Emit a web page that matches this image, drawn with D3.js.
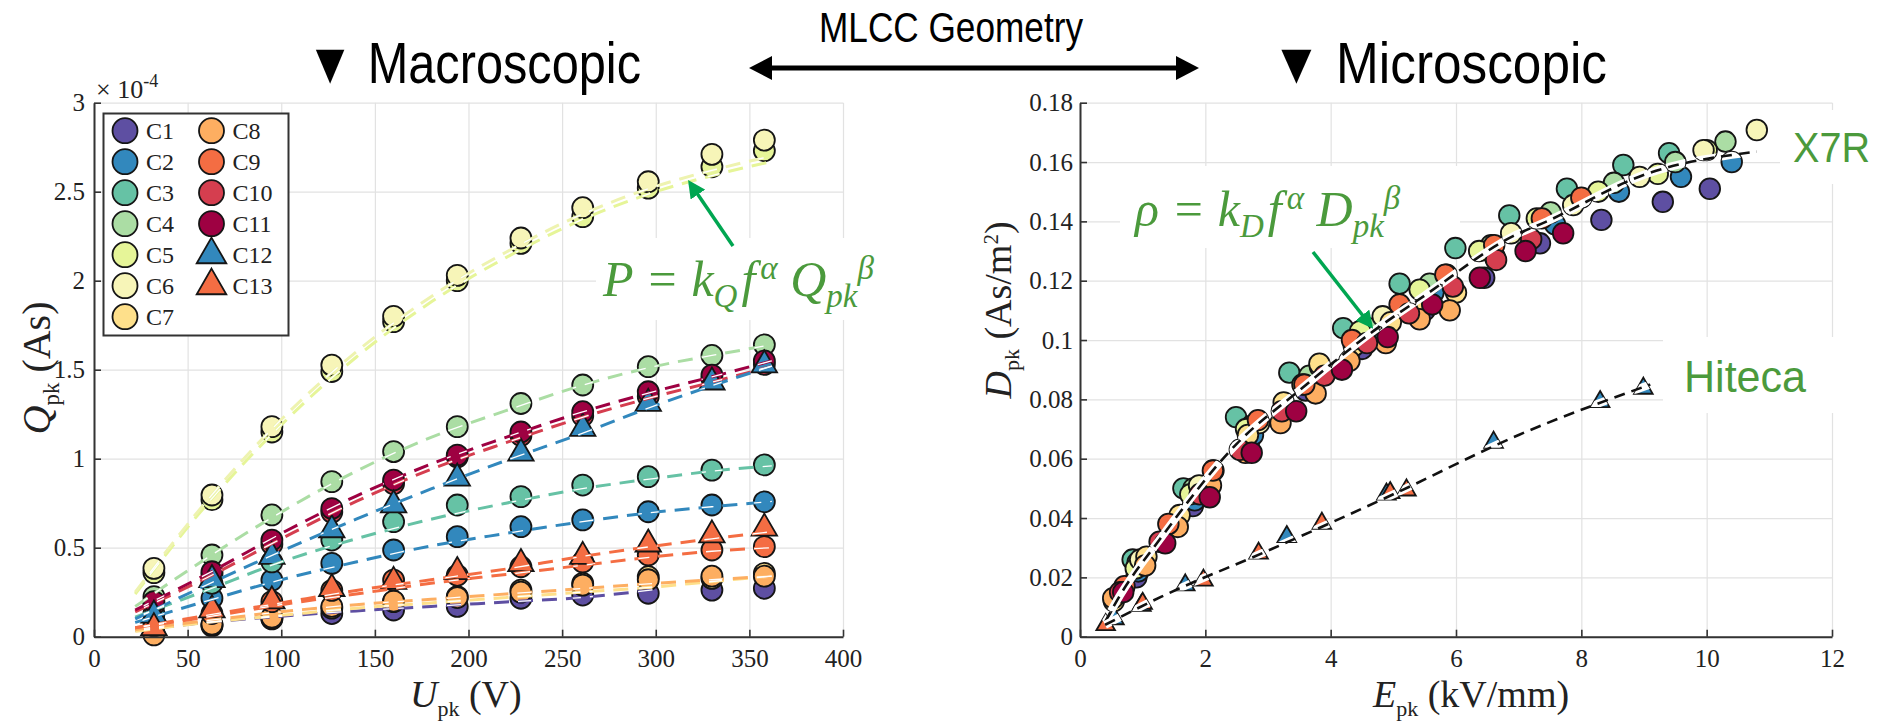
<!DOCTYPE html>
<html>
<head>
<meta charset="utf-8">
<script src="https://cdn.jsdelivr.net/npm/d3@7"></script>
<style>
  body { margin: 0; background: #fff; }
  svg { display: block; }
</style>
</head>
<body>
<svg id="fig" width="1880" height="725"></svg>
<script>
// ---- data ----
const seriesNames = ["C1","C2","C3","C4","C5","C6","C7","C8","C9","C10","C11","C12","C13"];
const seriesColors = ["#5e4fa2","#3288bd","#66c2a5","#abdda4","#e6f598","#f7f5b8","#fee08b","#fdae61","#f46d43","#d53e4f","#9e0142","#3288bd","#f46d43"];
const seriesShapes = ["o","o","o","o","o","o","o","o","o","o","o","t","t"];

// left panel: peak voltage (V) and peak charge (x1e-4 As)
const uLevels = [32, 63, 95, 127, 160, 194, 228, 261, 296, 330, 358];
const qPeak = [
  [0.02, 0.06, 0.10, 0.13, 0.15, 0.17, 0.216, 0.234, 0.244, 0.262, 0.272],
  [0.09, 0.216, 0.318, 0.412, 0.487, 0.562, 0.618, 0.656, 0.702, 0.74, 0.758],
  [0.13, 0.30, 0.42, 0.543, 0.646, 0.74, 0.787, 0.852, 0.899, 0.936, 0.965],
  [0.225, 0.459, 0.684, 0.871, 1.04, 1.18, 1.31, 1.414, 1.517, 1.58, 1.64],
  [0.36, 0.77, 1.15, 1.49, 1.77, 2.00, 2.21, 2.36, 2.52, 2.64, 2.73],
  [0.384, 0.796, 1.18, 1.526, 1.80, 2.03, 2.24, 2.41, 2.556, 2.71, 2.79],
  [0.02, 0.066, 0.103, 0.16, 0.197, 0.225, 0.262, 0.30, 0.337, 0.328, 0.356],
  [0.01, 0.07, 0.11, 0.17, 0.20, 0.22, 0.25, 0.29, 0.32, 0.34, 0.34],
  [0.06, 0.13, 0.197, 0.26, 0.318, 0.345, 0.393, 0.42, 0.459, 0.487, 0.506],
  [0.18, 0.35, 0.52, 0.70, 0.86, 1.01, 1.13, 1.24, 1.35, 1.45, 1.53],
  [0.197, 0.365, 0.543, 0.72, 0.88, 1.02, 1.15, 1.264, 1.376, 1.47, 1.55],
  [0.12, 0.32, 0.45, 0.60, 0.74, 0.89, 1.03, 1.17, 1.31, 1.43, 1.526],
  [0.05, 0.15, 0.20, 0.27, 0.31, 0.365, 0.41, 0.45, 0.52, 0.571, 0.609]
];
// dashed fit curves of the left panel
const fitU = [22, 60, 100, 140, 180, 220, 260, 300, 330, 362];
const qFit = [
  [0.035, 0.08, 0.115, 0.145, 0.17, 0.195, 0.22, 0.265, null, null],
  [0.08, 0.20, 0.32, 0.42, 0.51, 0.58, 0.645, 0.70, 0.73, 0.76],
  [0.11, 0.26, 0.42, 0.55, 0.66, 0.75, 0.83, 0.89, 0.93, 0.96],
  [0.17, 0.44, 0.70, 0.93, 1.12, 1.27, 1.41, 1.52, 1.58, 1.64],
  [0.24, 0.74, 1.19, 1.57, 1.88, 2.13, 2.34, 2.50, 2.59, 2.67],
  [0.25, 0.76, 1.22, 1.60, 1.91, 2.16, 2.37, 2.53, 2.62, 2.70],
  [0.03, 0.08, 0.12, 0.16, 0.19, 0.22, 0.25, 0.28, 0.31, 0.34],
  [0.04, 0.09, 0.14, 0.18, 0.21, 0.24, 0.27, 0.30, 0.32, 0.34],
  [0.05, 0.11, 0.18, 0.24, 0.30, 0.35, 0.40, 0.45, 0.48, 0.50],
  [0.14, 0.33, 0.55, 0.76, 0.94, 1.09, 1.23, 1.35, 1.43, 1.52],
  [0.15, 0.35, 0.58, 0.79, 0.97, 1.12, 1.26, 1.38, 1.46, 1.55],
  [0.10, 0.29, 0.48, 0.66, 0.83, 0.99, 1.14, 1.30, 1.41, 1.52],
  [0.05, 0.12, 0.19, 0.26, 0.32, 0.38, 0.45, 0.51, 0.55, 0.59]
];

// right panel: peak field (kV/mm) and peak flux density (As/m^2)
const ePeak = [
  [0.9, 1.8, 2.7, 3.6, 4.5, 5.5, 6.45, 7.34, 8.32, 9.3, 10.05],
  [0.93, 1.83, 2.76, 3.69, 4.65, 5.64, 6.62, 7.58, 8.6, 9.59, 10.4],
  [0.84, 1.65, 2.49, 3.34, 4.2, 5.1, 5.99, 6.85, 7.77, 8.67, 9.4],
  [0.92, 1.81, 2.73, 3.66, 4.6, 5.58, 6.56, 7.51, 8.52, 9.5, 10.3],
  [0.89, 1.76, 2.65, 3.55, 4.47, 5.42, 6.37, 7.29, 8.27, 9.22, 10.0],
  [0.96, 1.9, 2.86, 3.83, 4.83, 5.85, 6.88, 7.87, 8.93, 9.95, 10.8],
  [0.54, 1.06, 1.59, 2.13, 2.68, 3.25, 3.82, 4.37, 4.96, 5.53, 6.0],
  [0.53, 1.04, 1.56, 2.09, 2.64, 3.2, 3.76, 4.3, 4.88, 5.42, 5.9],
  [0.71, 1.41, 2.12, 2.84, 3.58, 4.34, 5.1, 5.83, 6.61, 7.37, 8.0],
  [0.64, 1.27, 1.91, 2.55, 3.22, 3.9, 4.58, 5.25, 5.95, 6.64, 7.2],
  [0.69, 1.36, 2.07, 2.74, 3.45, 4.18, 4.91, 5.62, 6.38, 7.11, 7.71],
  [0.55, 0.98, 1.68, 3.3, 4.89, 6.6, 8.3, 8.99],
  [0.41, 1.0, 1.97, 2.85, 3.86, 4.95, 5.21]
];
const dPeak = [
  [0.020, 0.044, 0.066, 0.083, 0.097, 0.110, 0.121, 0.1326, 0.1405, 0.1466, 0.151],
  [0.022, 0.046, 0.068, 0.085, 0.101, 0.116, 0.128, 0.139, 0.150, 0.155, 0.160],
  [0.026, 0.050, 0.074, 0.089, 0.104, 0.119, 0.131, 0.142, 0.151, 0.159, 0.163],
  [0.025, 0.050, 0.071, 0.088, 0.104, 0.119, 0.132, 0.143, 0.153, 0.160, 0.1669],
  [0.023, 0.048, 0.070, 0.085, 0.103, 0.117, 0.130, 0.141, 0.150, 0.156, 0.164],
  [0.026, 0.051, 0.072, 0.091, 0.108, 0.122, 0.136, 0.1455, 0.155, 0.164, 0.1708],
  [0.012, 0.027, 0.041, 0.056, 0.068, 0.079, 0.092, 0.098, 0.106, 0.112, 0.116],
  [0.013, 0.024, 0.037, 0.051, 0.062, 0.072, 0.082, 0.093, 0.099, 0.107, 0.110],
  [0.017, 0.038, 0.056, 0.073, 0.085, 0.100, 0.112, 0.122, 0.132, 0.141, 0.148],
  [0.015, 0.032, 0.048, 0.063, 0.076, 0.088, 0.099, 0.109, 0.118, 0.127, 0.134],
  [0.015, 0.0315, 0.047, 0.062, 0.076, 0.090, 0.101, 0.112, 0.121, 0.130, 0.136],
  [0.006, 0.0105, 0.0174, 0.0337, 0.048, 0.0655, 0.0792, 0.0837],
  [0.004, 0.0112, 0.019, 0.0281, 0.0382, 0.0485, 0.0494]
];
const x7rFitE = [0.4, 0.64, 1.28, 2.5, 3.5, 4.68, 5.5, 6.91, 7.45, 9.04, 10.8];
const x7rFitD = [0.005, 0.014, 0.033, 0.065, 0.083, 0.103, 0.115, 0.135, 0.140, 0.156, 0.1635];
const hitecaFitE = [0.4, 1.3, 3, 5, 7, 9.1];
const hitecaFitD = [0.004, 0.0135, 0.029, 0.048, 0.068, 0.085];

const uTicks = [0, 50, 100, 150, 200, 250, 300, 350, 400];
const qTicks = [0, 0.5, 1, 1.5, 2, 2.5, 3];
const eTicks = [0, 2, 4, 6, 8, 10, 12];
const dTicks = [0, 0.02, 0.04, 0.06, 0.08, 0.1, 0.12, 0.14, 0.16, 0.18];

// ---- drawing ----
const svg = d3.select("#fig");
const serif = "'Liberation Serif','Times New Roman',serif";
const sans = "'Liberation Sans',Arial,sans-serif";
const green = "#4b9a3c";
const fmt = d3.format("~g");

const xL = d3.scaleLinear().domain([0, 400]).range([94, 843]);
const yL = d3.scaleLinear().domain([0, 3]).range([636.7, 102.7]);
const xR = d3.scaleLinear().domain([0, 12]).range([1080, 1832]);
const yR = d3.scaleLinear().domain([0, 0.18]).range([636.7, 102.7]);

function frame(x, y, xt, yt) {
  const y0 = y.range()[0], y1 = y.range()[1];
  const x0 = x.range()[0], x1 = x.range()[1];
  const g = svg.append("g");
  g.append("g").attr("transform", `translate(0,${y0})`)
    .call(d3.axisBottom(x).tickValues(xt).tickSize(-(y0 - y1)).tickFormat(""))
    .call(s => s.select(".domain").remove())
    .selectAll("line").attr("stroke", "#e2e2e2").attr("stroke-width", 1.2);
  g.append("g").attr("transform", `translate(${x0},0)`)
    .call(d3.axisLeft(y).tickValues(yt).tickSize(-(x1 - x0)).tickFormat(""))
    .call(s => s.select(".domain").remove())
    .selectAll("line").attr("stroke", "#e2e2e2").attr("stroke-width", 1.2);
  return g;
}

function axes(x, y, xt, yt, padY) {
  const y0 = y.range()[0], x0 = x.range()[0];
  const g = svg.append("g");
  const ax = g.append("g").attr("transform", `translate(0,${y0})`)
    .call(d3.axisBottom(x).tickValues(xt).tickSize(-7).tickSizeOuter(0).tickPadding(13).tickFormat(fmt));
  const ay = g.append("g").attr("transform", `translate(${x0},0)`)
    .call(d3.axisLeft(y).tickValues(yt).tickSize(-7).tickSizeOuter(0).tickPadding(padY).tickFormat(fmt));
  [ax, ay].forEach(a => {
    a.select(".domain").attr("stroke", "#333").attr("stroke-width", 2);
    a.selectAll(".tick line").attr("stroke", "#333").attr("stroke-width", 1.6);
    a.selectAll("text").attr("font-family", serif).attr("font-size", 25).attr("fill", "#222");
  });
}

function markerPath(shape, size) {
  return shape === "t" ? d3.symbol().type(d3.symbolTriangle).size(size)() : null;
}

function drawMarker(sel, shape, color, px, py, r, triSize) {
  if (shape === "o") {
    return sel.append("circle").attr("cx", px).attr("cy", py).attr("r", r)
      .attr("fill", color).attr("stroke", "#151515").attr("stroke-width", 1.8);
  }
  return sel.append("path").attr("d", markerPath("t", triSize))
    .attr("transform", `translate(${px},${py})`)
    .attr("fill", color).attr("stroke", "#151515").attr("stroke-width", 1.8);
}

// formula text: main letters, subscript, superscripts
function formula(x, y, lead, sub1, sym2, sub2) {
  const t = svg.append("text").attr("x", x).attr("y", y).attr("font-family", serif)
    .attr("font-style", "italic").attr("font-size", 50).attr("fill", green);
  t.append("tspan").text(lead + " = k");
  t.append("tspan").attr("font-size", 33).attr("dy", 11).text(sub1);
  t.append("tspan").attr("dy", -11).attr("dx", 4).text("f");
  t.append("tspan").attr("font-size", 33).attr("dy", -17).attr("dx", 5).text("\u03b1");
  t.append("tspan").attr("dy", 17).text(" " + sym2);
  t.append("tspan").attr("font-size", 33).attr("dy", 11).text(sub2);
  t.append("tspan").attr("font-size", 33).attr("dy", -28).text("\u03b2");
  return t;
}

const defs = svg.append("defs");

// ================= LEFT PANEL =================
frame(xL, yL, uTicks, qTicks);

const clipL = defs.append("clipPath").attr("id", "clipL");
const mkL = svg.append("g");
seriesNames.forEach((name, i) => {
  qPeak[i].forEach((q, j) => {
    if (q == null) return;
    const px = xL(uLevels[j]), py = yL(q);
    drawMarker(mkL, seriesShapes[i], seriesColors[i], px, py, 10.5, 280);
    if (seriesShapes[i] === "o") clipL.append("circle").attr("cx", px).attr("cy", py).attr("r", 10.5);
    else clipL.append("path").attr("d", markerPath("t", 280)).attr("transform", `translate(${px},${py})`);
  });
});

const lineL = d3.line().defined(d => d[1] != null)
  .x(d => xL(d[0])).y(d => yL(d[1])).curve(d3.curveMonotoneX);
const fitG = svg.append("g");
seriesNames.forEach((name, i) => {
  const pts = fitU.map((u, j) => [u, qFit[i][j]]).filter(d => d[1] != null);
  fitG.append("path").attr("d", lineL(pts)).attr("fill", "none")
    .attr("stroke", seriesColors[i] === "#f7f5b8" ? "#eef3b0" : seriesColors[i])
    .attr("stroke-width", 3).attr("stroke-dasharray", "15,9");
});
const hiG = svg.append("g").attr("clip-path", "url(#clipL)");
seriesNames.forEach((name, i) => {
  const pts = fitU.map((u, j) => [u, qFit[i][j]]).filter(d => d[1] != null);
  hiG.append("path").attr("d", lineL(pts)).attr("fill", "none")
    .attr("stroke", "#fff").attr("stroke-width", 1.3).attr("stroke-dasharray", "15,9");
});

axes(xL, yL, uTicks, qTicks, 9);

// exponent label
svg.append("text").attr("x", 96).attr("y", 98).attr("font-family", serif)
  .attr("font-size", 26).attr("fill", "#222")
  .text("\u00d7 10").append("tspan").attr("dy", -11).attr("font-size", 18).text("-4");

// legend
const leg = svg.append("g");
leg.append("rect").attr("x", 103.5).attr("y", 113.5).attr("width", 185).attr("height", 222)
  .attr("fill", "#fff").attr("stroke", "#333").attr("stroke-width", 2);
seriesNames.forEach((name, i) => {
  const col = i < 7 ? 0 : 1, row = i < 7 ? i : i - 7;
  const cx = col === 0 ? 125 : 211.5, cy = 130.7 + row * 31;
  drawMarker(leg, seriesShapes[i], seriesColors[i], cx, cy, 12.5, 380);
  leg.append("text").attr("x", cx + 21).attr("y", cy + 8).attr("font-family", serif)
    .attr("font-size", 24).attr("fill", "#222").text(name);
});

// axis labels
const ylab = svg.append("text").attr("transform", "translate(50,368) rotate(-90)")
  .attr("text-anchor", "middle").attr("font-family", serif).attr("font-size", 40).attr("fill", "#222");
ylab.append("tspan").attr("font-style", "italic").text("Q");
ylab.append("tspan").attr("font-size", 23).attr("dy", 9).text("pk");
ylab.append("tspan").attr("dy", -9).text(" (As)");

const xlab = svg.append("text").attr("x", 410).attr("y", 707)
  .attr("font-family", serif).attr("font-size", 38).attr("fill", "#222");
xlab.append("tspan").attr("font-style", "italic").text("U");
xlab.append("tspan").attr("font-size", 22).attr("dy", 9).text("pk");
xlab.append("tspan").attr("dy", -9).text(" (V)");

// annotation
svg.append("rect").attr("x", 596).attr("y", 238).attr("width", 312).attr("height", 82).attr("fill", "#fff");
formula(603, 296, "P", "Q", "Q", "pk");

// ================= RIGHT PANEL =================
frame(xR, yR, eTicks, dTicks);

// white boxes behind labels
svg.append("rect").attr("x", 1120).attr("y", 166).attr("width", 340).attr("height", 82).attr("fill", "#fff");
svg.append("rect").attr("x", 1780).attr("y", 110).attr("width", 100).attr("height", 74).attr("fill", "#fff");
svg.append("rect").attr("x", 1663).attr("y", 337).attr("width", 217).attr("height", 76).attr("fill", "#fff");

const clipR = defs.append("clipPath").attr("id", "clipR");
const mkR = svg.append("g");
seriesNames.forEach((name, i) => {
  ePeak[i].forEach((e, j) => {
    const px = xR(e), py = yR(dPeak[i][j]);
    drawMarker(mkR, seriesShapes[i], seriesColors[i], px, py, 10.3, 150);
    if (seriesShapes[i] === "o") clipR.append("circle").attr("cx", px).attr("cy", py).attr("r", 10.3);
    else clipR.append("path").attr("d", markerPath("t", 150)).attr("transform", `translate(${px},${py})`);
  });
});

const lineR = d3.line().x(d => xR(d[0])).y(d => yR(d[1])).curve(d3.curveMonotoneX);
const x7rPts = x7rFitE.map((e, j) => [e, x7rFitD[j]]);
const hitPts = hitecaFitE.map((e, j) => [e, hitecaFitD[j]]);
[x7rPts, hitPts].forEach(pts => {
  svg.append("path").attr("d", lineR(pts)).attr("fill", "none").attr("clip-path", "url(#clipR)")
    .attr("stroke", "#fff").attr("stroke-width", 8);
  svg.append("path").attr("d", lineR(pts)).attr("fill", "none")
    .attr("stroke", "#111").attr("stroke-width", 2.6).attr("stroke-dasharray", "11,7");
});

axes(xR, yR, eTicks, dTicks, 7);

const ylabR = svg.append("text").attr("transform", "translate(1011,310) rotate(-90)")
  .attr("text-anchor", "middle").attr("font-family", serif).attr("font-size", 38).attr("fill", "#222");
ylabR.append("tspan").attr("font-style", "italic").text("D");
ylabR.append("tspan").attr("font-size", 22).attr("dy", 8).text("pk");
ylabR.append("tspan").attr("dy", -8).text("  (As/m");
ylabR.append("tspan").attr("font-size", 21).attr("dy", -13).text("2");
ylabR.append("tspan").attr("dy", 13).text(")");

const xlabR = svg.append("text").attr("x", 1373).attr("y", 707)
  .attr("font-family", serif).attr("font-size", 38).attr("fill", "#222");
xlabR.append("tspan").attr("font-style", "italic").text("E");
xlabR.append("tspan").attr("font-size", 22).attr("dy", 9).text("pk");
xlabR.append("tspan").attr("dy", -9).text("  (kV/mm)");

formula(1135, 226, "\u03c1", "D", "D", "pk");

svg.append("text").attr("x", 1793).attr("y", 162).attr("font-family", sans)
  .attr("font-size", 42).attr("textLength", 77).attr("lengthAdjust", "spacingAndGlyphs")
  .attr("fill", green).text("X7R");
svg.append("text").attr("x", 1684).attr("y", 392).attr("font-family", sans)
  .attr("font-size", 44).attr("textLength", 122).attr("lengthAdjust", "spacingAndGlyphs")
  .attr("fill", green).text("Hiteca");

// green pointer arrows
defs.append("marker").attr("id", "ga").attr("viewBox", "0 0 10 10").attr("refX", 8).attr("refY", 5)
  .attr("markerWidth", 5).attr("markerHeight", 5).attr("orient", "auto")
  .append("path").attr("d", "M0,0L10,5L0,10z").attr("fill", "#00a651");
svg.append("line").attr("x1", 733).attr("y1", 246).attr("x2", 690).attr("y2", 183)
  .attr("stroke", "#00a651").attr("stroke-width", 3.5).attr("marker-end", "url(#ga)");
svg.append("line").attr("x1", 1313).attr("y1", 252).attr("x2", 1371).attr("y2", 326)
  .attr("stroke", "#00a651").attr("stroke-width", 3.5).attr("marker-end", "url(#ga)");

// ================= TITLES =================
svg.append("text").attr("x", 306).attr("y", 83).attr("font-family", sans).attr("font-size", 58)
  .attr("textLength", 335).attr("lengthAdjust", "spacingAndGlyphs").attr("fill", "#000")
  .text("\u25bc Macroscopic");
svg.append("text").attr("x", 1271).attr("y", 83).attr("font-family", sans).attr("font-size", 58)
  .attr("textLength", 336).attr("lengthAdjust", "spacingAndGlyphs").attr("fill", "#000")
  .text("\u25bc Microscopic");
svg.append("text").attr("x", 819).attr("y", 42).attr("font-family", sans).attr("font-size", 43)
  .attr("textLength", 264).attr("lengthAdjust", "spacingAndGlyphs").attr("fill", "#000")
  .text("MLCC Geometry");

// double arrow
svg.append("line").attr("x1", 768).attr("y1", 68).attr("x2", 1180).attr("y2", 68)
  .attr("stroke", "#000").attr("stroke-width", 5);
svg.append("path").attr("d", "M749,68L772,56L772,80Z").attr("fill", "#000");
svg.append("path").attr("d", "M1199,68L1176,56L1176,80Z").attr("fill", "#000");
</script>
</body>
</html>
